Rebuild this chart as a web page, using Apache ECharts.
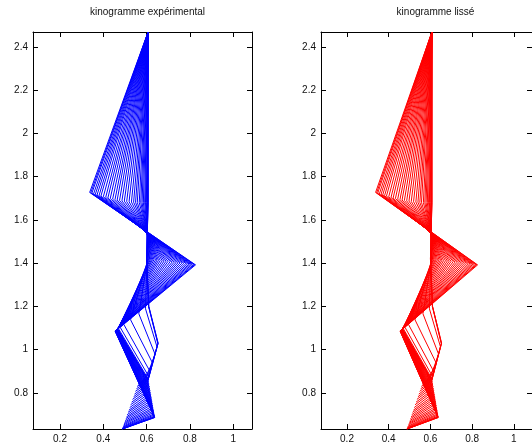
<!DOCTYPE html>
<html>
<head>
<meta charset="utf-8">
<script src="https://cdn.jsdelivr.net/npm/echarts@6/dist/echarts.min.js"></script>
<style>
  html, body { margin: 0; padding: 0; background: #fff; }
  #chart { width: 532px; height: 445px; }
</style>
</head>
<body>
<div id="chart"></div>
<script>
// titres des deux sous-graphes
const titles = ["kinogramme expérimental", "kinogramme lissé"];
const colors = ["#0000ff", "#ff0000"];

// graduations
const xTicks = [0.2, 0.4, 0.6, 0.8, 1];
const yTicks = [0.8, 1, 1.2, 1.4, 1.6, 1.8, 2, 2.2, 2.4];

// point haut, fixe sur toutes les images
const handX = 0.607, handY = 2.469;

// 36 images : une valeur par image pour chaque marqueur
const shoulderX = [0.607, 0.607, 0.606, 0.604, 0.602, 0.599, 0.595, 0.591, 0.585, 0.579, 0.573, 0.566,
  0.557, 0.549, 0.540, 0.530, 0.519, 0.508, 0.497, 0.486, 0.475, 0.464, 0.454, 0.443,
  0.432, 0.421, 0.411, 0.400, 0.389, 0.380, 0.371, 0.363, 0.355, 0.347, 0.342, 0.337];
const shoulderY = [1.679, 1.679, 1.679, 1.679, 1.679, 1.679, 1.679, 1.679, 1.679, 1.680, 1.680, 1.680,
  1.681, 1.681, 1.682, 1.683, 1.684, 1.685, 1.687, 1.688, 1.690, 1.692, 1.694, 1.696,
  1.699, 1.701, 1.704, 1.707, 1.710, 1.712, 1.715, 1.718, 1.720, 1.723, 1.725, 1.727];

const hipX = [0.600, 0.600, 0.601, 0.602, 0.605, 0.607, 0.610, 0.614, 0.618, 0.623, 0.628, 0.634,
  0.641, 0.648, 0.655, 0.663, 0.672, 0.681, 0.690, 0.699, 0.709, 0.718, 0.727, 0.736,
  0.745, 0.754, 0.763, 0.772, 0.781, 0.789, 0.797, 0.803, 0.810, 0.817, 0.822, 0.826];
const hipY = [1.420, 1.420, 1.420, 1.420, 1.419, 1.419, 1.419, 1.418, 1.418, 1.417, 1.417, 1.416,
  1.415, 1.414, 1.413, 1.412, 1.411, 1.410, 1.409, 1.408, 1.407, 1.405, 1.404, 1.403,
  1.402, 1.401, 1.400, 1.399, 1.398, 1.397, 1.396, 1.395, 1.394, 1.393, 1.393, 1.392];

const kneeX = [0.610, 0.610, 0.609, 0.595, 0.564, 0.526, 0.495, 0.478, 0.470, 0.467, 0.466, 0.466,
  0.465, 0.465, 0.464, 0.464, 0.463, 0.463, 0.462, 0.462, 0.461, 0.461, 0.460, 0.460,
  0.459, 0.459, 0.458, 0.458, 0.457, 0.457, 0.456, 0.456, 0.456, 0.455, 0.455, 0.455];
const kneeY = [1.200, 1.200, 1.199, 1.189, 1.166, 1.138, 1.116, 1.103, 1.097, 1.095, 1.095, 1.094,
  1.094, 1.094, 1.093, 1.093, 1.092, 1.092, 1.091, 1.091, 1.090, 1.090, 1.090, 1.089,
  1.089, 1.088, 1.088, 1.088, 1.087, 1.087, 1.087, 1.086, 1.086, 1.086, 1.085, 1.085];

const ankleX = [0.653, 0.653, 0.652, 0.648, 0.639, 0.628, 0.617, 0.611, 0.608, 0.607, 0.608, 0.609,
  0.610, 0.611, 0.613, 0.614, 0.616, 0.617, 0.619, 0.620, 0.622, 0.623, 0.625, 0.626,
  0.628, 0.629, 0.630, 0.632, 0.633, 0.634, 0.635, 0.636, 0.636, 0.637, 0.637, 0.637];
const ankleY = [1.030, 1.030, 1.027, 1.013, 0.979, 0.937, 0.897, 0.874, 0.863, 0.858, 0.855, 0.850,
  0.843, 0.836, 0.827, 0.818, 0.810, 0.801, 0.792, 0.783, 0.775, 0.766, 0.757, 0.749,
  0.740, 0.731, 0.724, 0.717, 0.710, 0.703, 0.698, 0.693, 0.689, 0.688, 0.686, 0.686];

const toeX = [0.607, 0.607, 0.606, 0.602, 0.593, 0.581, 0.570, 0.564, 0.561, 0.556, 0.553, 0.548,
  0.544, 0.540, 0.535, 0.531, 0.526, 0.522, 0.518, 0.514, 0.510, 0.507, 0.504, 0.501,
  0.498, 0.496, 0.494, 0.491, 0.490, 0.488, 0.488, 0.487, 0.487, 0.487, 0.487, 0.487];
const toeY = [0.860, 0.860, 0.859, 0.858, 0.854, 0.849, 0.844, 0.842, 0.840, 0.830, 0.819, 0.807,
  0.794, 0.782, 0.770, 0.757, 0.745, 0.732, 0.720, 0.710, 0.699, 0.689, 0.681, 0.672,
  0.664, 0.658, 0.652, 0.645, 0.641, 0.637, 0.635, 0.633, 0.633, 0.633, 0.633, 0.633];

// limites (axis equal tight)
const xMin = 0.0753, xMax = 1.0868;
const yMin = 0.633, yMax = 2.469;

const font = "Liberation Sans";
const gridLefts = [33, 321];

// une polyligne par image
const frames = shoulderX.map((_, i) => [
  [handX, handY],
  [shoulderX[i], shoulderY[i]],
  [hipX[i], hipY[i]],
  [kneeX[i], kneeY[i]],
  [ankleX[i], ankleY[i]],
  [toeX[i], toeY[i]],
]);

function xAxisFor(gi, pos) {
  return {
    type: "value", gridIndex: gi, position: pos, min: xMin, max: xMax,
    axisLine: { show: true, onZero: false, lineStyle: { color: "#000", width: 1 } },
    axisTick: { show: true, inside: true, length: 5, customValues: xTicks, lineStyle: { color: "#000" } },
    axisLabel: { show: pos === "bottom", customValues: xTicks, color: "#111", fontSize: 10, fontFamily: font, margin: 5 },
    splitLine: { show: false },
  };
}
function yAxisFor(gi, pos) {
  return {
    type: "value", gridIndex: gi, position: pos, min: yMin, max: yMax,
    axisLine: { show: true, onZero: false, lineStyle: { color: "#000", width: 1 } },
    axisTick: { show: true, inside: true, length: 5, customValues: yTicks, lineStyle: { color: "#000" } },
    axisLabel: { show: pos === "left", customValues: yTicks, color: "#111", fontSize: 10, fontFamily: font, margin: 5 },
    splitLine: { show: false },
  };
}

const chart = echarts.init(document.getElementById("chart"));
chart.setOption({
  animation: false,
  backgroundColor: "#fff",
  title: titles.map((t, gi) => ({
    text: t,
    left: gridLefts[gi] + 109.5,
    top: 2,
    textAlign: "center",
    textStyle: { fontSize: 10, fontWeight: "normal", color: "#111", fontFamily: font },
  })),
  grid: gridLefts.map((l) => ({ left: l, top: 32, width: 219, height: 397 })),
  xAxis: [xAxisFor(0, "bottom"), xAxisFor(0, "top"), xAxisFor(1, "bottom"), xAxisFor(1, "top")],
  yAxis: [yAxisFor(0, "left"), yAxisFor(0, "right"), yAxisFor(1, "left"), yAxisFor(1, "right")],
  series: colors.map((c, gi) => ({
    type: "lines",
    coordinateSystem: "cartesian2d",
    xAxisIndex: gi * 2,
    yAxisIndex: gi * 2,
    polyline: true,
    clip: true,
    silent: true,
    data: frames.map((f) => ({ coords: f })),
    lineStyle: { color: c, width: 1, opacity: 1 },
  })),
});
</script>
</body>
</html>
